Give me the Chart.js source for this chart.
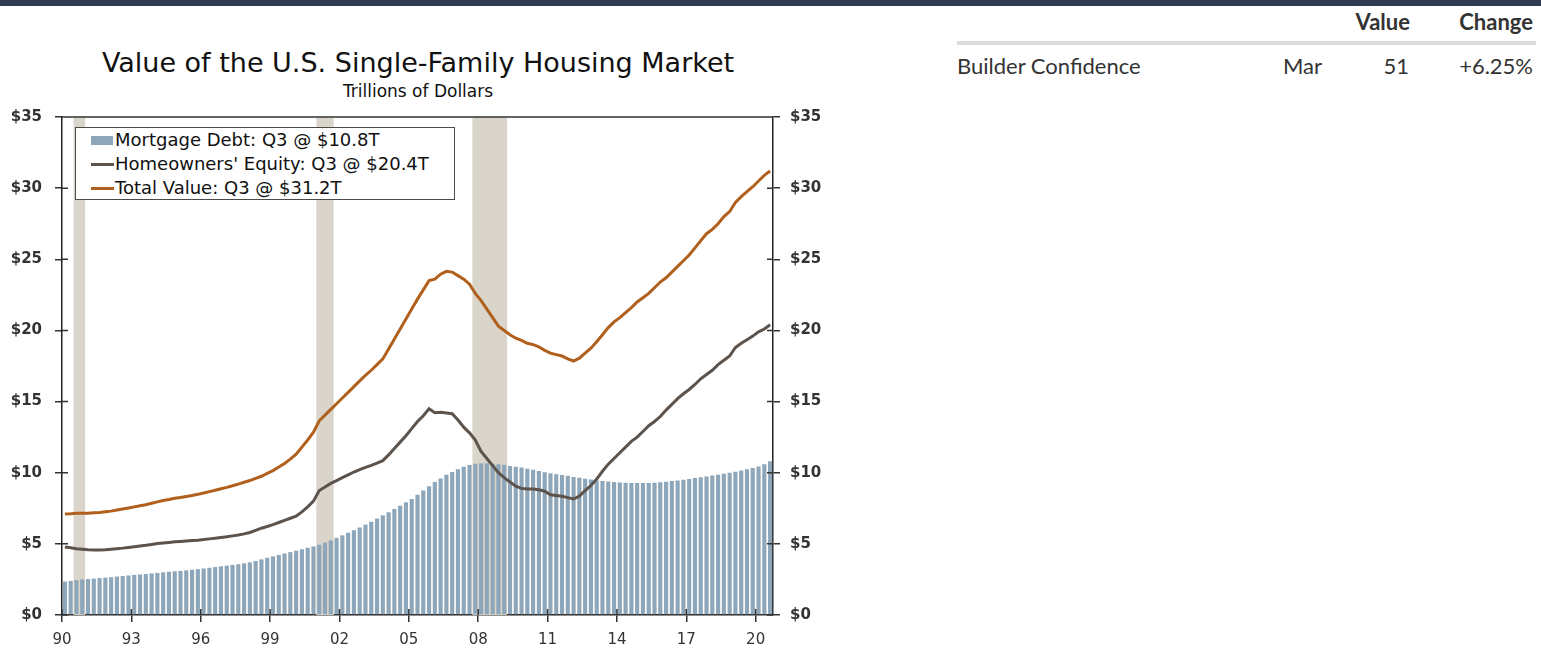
<!DOCTYPE html>
<html>
<head>
<meta charset="utf-8">
<script src="https://cdn.jsdelivr.net/npm/chart.js@4.4.1/dist/chart.umd.min.js"></script>
<style>
body { margin: 0; width: 1541px; height: 650px; background: #fff; position: relative; overflow: hidden; font-family: 'DejaVu Sans', sans-serif; }
#topbar { position: absolute; left: 0; top: 0; width: 1541px; height: 6px; background: #2e3e50; }
#title { position: absolute; left: 0; width: 836px; top: 47px; text-align: center; font-size: 27px; line-height: 32px; color: #111; }
#subtitle { position: absolute; left: 0; width: 836px; top: 81px; text-align: center; font-size: 17px; line-height: 20px; color: #111; }
#wrap { position: absolute; left: 0; top: 95px; width: 840px; height: 551px; }
#legend { position: absolute; left: 75px; top: 127px; width: 380px; height: 73px; box-sizing: border-box; border: 1.5px solid #4a4a4a; background: #fff; z-index: 2; }
.row { position: absolute; left: 0; height: 24px; line-height: 24px; font-size: 18px; color: #111; white-space: nowrap; }
.row span.sw { position: absolute; left: 15px; }
.row span.tx { position: absolute; left: 39px; }
.tbl { position: absolute; font-family: Lato, sans-serif; font-size: 22px; color: #333; line-height: 26px; white-space: nowrap; }
.hd { font-weight: bold; }
</style>
</head>
<body>
<div id="topbar"></div>
<div id="title">Value of the U.S. Single-Family Housing Market</div>
<div id="subtitle">Trillions of Dollars</div>
<div id="wrap"><canvas id="chart"></canvas></div>
<div id="legend"></div>

<div class="tbl hd" style="right:131px; top:9px;">Value</div>
<div class="tbl hd" style="right:8px; top:9px;">Change</div>
<div style="position:absolute; left:957px; top:41px; width:579px; height:4px; background:#dcdcdc;"></div>
<div class="tbl" style="left:957px; top:53px;">Builder Confidence</div>
<div class="tbl" style="left:1283px; top:53px;">Mar</div>
<div class="tbl" style="right:132px; top:53px;">51</div>
<div class="tbl" style="right:8px; top:53px;">+6.25%</div>

<script>
// quarterly data, 1990 Q1 .. 2020 Q3 (trillions of dollars)
const firstYear = 1990;
const lastQuarter = { year: 2020, q: 3 };

const mortgageDebt = [
  2.35, 2.40, 2.45, 2.50,  // 1990
  2.53, 2.56, 2.60, 2.63,
  2.66, 2.70, 2.74, 2.78,
  2.82, 2.85, 2.88, 2.92,
  2.96, 3.00, 3.04, 3.07,
  3.10, 3.14, 3.18, 3.22,  // 1995
  3.27, 3.32, 3.37, 3.42,
  3.47, 3.52, 3.57, 3.63,
  3.70, 3.80, 3.91, 4.02,
  4.12, 4.22, 4.32, 4.42,
  4.52, 4.62, 4.72, 4.82,  // 2000
  4.94, 5.08, 5.24, 5.42,
  5.60, 5.78, 5.96, 6.15,
  6.35, 6.55, 6.78, 7.00,
  7.22, 7.45, 7.68, 7.92,
  8.15, 8.45, 8.75, 9.05,  // 2005
  9.35, 9.60, 9.85, 10.05,
  10.25, 10.42, 10.55, 10.63,
  10.66, 10.66, 10.63, 10.60,
  10.56, 10.48, 10.42, 10.36,
  10.28, 10.20, 10.12, 10.04, // 2010
  9.96, 9.90, 9.84, 9.78,
  9.70, 9.64, 9.58, 9.52,
  9.46, 9.42, 9.38, 9.34,
  9.31, 9.29, 9.28, 9.27,
  9.27, 9.28, 9.30, 9.33,  // 2015
  9.37, 9.41, 9.46, 9.51,
  9.56, 9.62, 9.68, 9.74,
  9.80, 9.86, 9.93, 10.00,
  10.07, 10.15, 10.24, 10.33,
  10.44, 10.60, 10.80      // 2020
];

const homeEquity = [
  4.78, 4.72, 4.66, 4.62,  // 1990
  4.58, 4.56, 4.56, 4.58,
  4.62, 4.66, 4.70, 4.75,
  4.80, 4.85, 4.90, 4.96,
  5.02, 5.06, 5.10, 5.14,
  5.17, 5.20, 5.23, 5.26,  // 1995
  5.30, 5.35, 5.40, 5.45,
  5.50, 5.56, 5.62, 5.70,
  5.80, 5.95, 6.10, 6.22,
  6.35, 6.50, 6.65, 6.80,
  6.95, 7.25, 7.60, 8.00,  // 2000
  8.75, 9.00, 9.25, 9.45,
  9.65, 9.85, 10.05, 10.22,
  10.38, 10.52, 10.68, 10.85,
  11.25, 11.70, 12.15, 12.60,
  13.10, 13.60, 14.00, 14.50, // 2005
  14.22, 14.25, 14.20, 14.15,
  13.70, 13.20, 12.80, 12.30,
  11.50, 11.00, 10.50, 10.00,
  9.65, 9.35, 9.05, 8.90,
  8.85, 8.85, 8.80, 8.70,  // 2010
  8.45, 8.40, 8.35, 8.25,
  8.15, 8.35, 8.75, 9.10,
  9.55, 10.10, 10.60, 11.00,
  11.40, 11.80, 12.20, 12.50,
  12.90, 13.30, 13.60, 13.95, // 2015
  14.40, 14.80, 15.20, 15.55,
  15.85, 16.20, 16.60, 16.90,
  17.20, 17.60, 17.90, 18.20,
  18.80, 19.10, 19.35, 19.60,
  19.90, 20.10, 20.40      // 2020
];

const totalValue = [
  7.10, 7.12, 7.15, 7.15,  // 1990
  7.15, 7.18, 7.20, 7.25,
  7.30, 7.38, 7.45, 7.52,
  7.60, 7.68, 7.75, 7.85,
  7.95, 8.05, 8.12, 8.20,
  8.26, 8.33, 8.40, 8.48,  // 1995
  8.57, 8.67, 8.77, 8.87,
  8.97, 9.08, 9.20, 9.33,
  9.45, 9.60, 9.75, 9.95,
  10.15, 10.40, 10.65, 10.95,
  11.30, 11.80, 12.30, 12.85, // 2000
  13.65, 14.05, 14.45, 14.85,
  15.25, 15.65, 16.05, 16.45,
  16.85, 17.20, 17.60, 18.00,
  18.70, 19.40, 20.10, 20.80,
  21.50, 22.20, 22.85, 23.50, // 2005
  23.60, 23.95, 24.15, 24.10,
  23.85, 23.60, 23.25, 22.60,
  22.10, 21.50, 20.90, 20.30,
  20.00, 19.70, 19.45, 19.30,
  19.10, 19.00, 18.85, 18.60, // 2010
  18.40, 18.30, 18.20, 18.00,
  17.85, 18.05, 18.40, 18.75,
  19.20, 19.70, 20.20, 20.60,
  20.90, 21.25, 21.60, 22.00,
  22.30, 22.60, 23.00, 23.40, // 2015
  23.70, 24.10, 24.50, 24.90,
  25.30, 25.80, 26.30, 26.80,
  27.10, 27.50, 28.00, 28.35,
  29.00, 29.40, 29.75, 30.10,
  30.50, 30.90, 31.20      // 2020
];

const xTickYears = [1990, 1993, 1996, 1999, 2002, 2005, 2008, 2011, 2014, 2017, 2020];
const yTicks = [0, 5, 10, 15, 20, 25, 30, 35];
const recessions = [[1990.5, 1991.0], [2001.0, 2001.75], [2007.75, 2009.25]];

const legendItems = [
  { kind: 'bar', color: '#8ea6b9', text: 'Mortgage Debt: Q3 @ $10.8T' },
  { kind: 'line', color: '#5c534c', text: "Homeowners' Equity: Q3 @ $20.4T" },
  { kind: 'line', color: '#b0601c', text: 'Total Value: Q3 @ $31.2T' }
];

// quarter midpoints as decimal years
let quarters = [];
for (let y = firstYear; y <= lastQuarter.year; y++) {
  for (let q = 1; q <= 4; q++) {
    if (y === lastQuarter.year && q > lastQuarter.q) break;
    quarters.push(y + (q - 1) / 4 + 0.125);
  }
}

// html legend
let lg = document.getElementById('legend');
legendItems.forEach((it, i) => {
  let row = document.createElement('div');
  row.className = 'row';
  row.style.top = (i * 24) + 'px';
  let sw = document.createElement('span');
  sw.className = 'sw';
  if (it.kind === 'bar') {
    sw.style.cssText = `top:8px;width:22px;height:9px;background:${it.color};`;
  } else {
    sw.style.cssText = `top:11px;width:23px;height:3px;background:${it.color};`;
  }
  let tx = document.createElement('span');
  tx.className = 'tx';
  tx.textContent = it.text;
  row.appendChild(sw);
  row.appendChild(tx);
  lg.appendChild(row);
});

const framePlugin = {
  id: 'frame',
  beforeDatasetsDraw(chart) {
    const { ctx, chartArea: a, scales } = chart;
    ctx.save();
    ctx.fillStyle = '#d9d5ca';
    recessions.forEach(r => {
      let x1 = scales.x.getPixelForValue(r[0]);
      let x2 = scales.x.getPixelForValue(r[1]);
      ctx.fillRect(x1, a.top, x2 - x1, a.bottom - a.top);
    });
    ctx.restore();
  },
  afterDraw(chart) {
    const { ctx, chartArea: a, scales } = chart;
    ctx.save();
    ctx.strokeStyle = '#333';
    ctx.lineWidth = 1.5;
    ctx.beginPath();
    ctx.moveTo(a.left, a.top);
    ctx.lineTo(a.right, a.top);
    // inner half of the tick marks
    yTicks.forEach(v => {
      let py = scales.y.getPixelForValue(v);
      ctx.moveTo(a.left, py); ctx.lineTo(a.left + 6, py);
      ctx.moveTo(a.right, py); ctx.lineTo(a.right - 6, py);
    });
    xTickYears.forEach(v => {
      let px = scales.x.getPixelForValue(v);
      ctx.moveTo(px, a.bottom); ctx.lineTo(px, a.bottom - 6);
    });
    ctx.stroke();
    ctx.restore();
  }
};

Chart.defaults.font.family = "'DejaVu Sans', sans-serif";

const yAxis = (pos, w, pad) => ({
  position: pos,
  min: 0, max: 35,
  afterBuildTicks: s => { s.ticks = yTicks.map(v => ({ value: v })); },
  ticks: { callback: v => '$' + v, color: '#333', font: { size: 15, weight: 'bold' }, padding: pad },
  grid: { drawOnChartArea: false, tickLength: 7, color: '#333', lineWidth: 1.5 },
  border: { color: '#222', width: 1.5 },
  afterFit: s => { s.width = w; }
});

new Chart(document.getElementById('chart'), {
  type: 'bar',
  data: {
    datasets: [
      {
        type: 'line', label: 'Total Value', order: 1,
        data: quarters.map((x, i) => ({ x: x, y: totalValue[i] })),
        borderColor: '#b0601c', borderWidth: 3, pointRadius: 0, tension: 0
      },
      {
        type: 'line', label: "Homeowners' Equity", order: 2,
        data: quarters.map((x, i) => ({ x: x, y: homeEquity[i] })),
        borderColor: '#5c534c', borderWidth: 3, pointRadius: 0, tension: 0
      },
      {
        type: 'bar', label: 'Mortgage Debt', order: 3,
        data: quarters.map((x, i) => ({ x: x, y: mortgageDebt[i] })),
        backgroundColor: '#8ea6b9', barPercentage: 0.72, categoryPercentage: 1
      }
    ]
  },
  options: {
    responsive: true,
    maintainAspectRatio: false,
    animation: false,
    layout: { padding: { top: 10, left: 0, right: 0, bottom: 0 } },
    plugins: { legend: { display: false }, tooltip: { enabled: false } },
    scales: {
      x: {
        type: 'linear', min: 1990, max: 2020.75, offset: false,
        afterBuildTicks: s => { s.ticks = xTickYears.map(v => ({ value: v })); },
        ticks: { callback: v => String(v % 100).padStart(2, '0'), color: '#333', font: { size: 15 }, padding: 9, maxRotation: 0, autoSkip: false },
        grid: { drawOnChartArea: false, offset: false, tickLength: 7, color: '#333', lineWidth: 1.5 },
        border: { color: '#222', width: 1.5 },
        afterFit: s => { s.height = 31; }
      },
      y: yAxis('left', 62, 13),
      y2: yAxis('right', 67, 10)
    }
  },
  plugins: [framePlugin]
});
</script>
</body>
</html>
